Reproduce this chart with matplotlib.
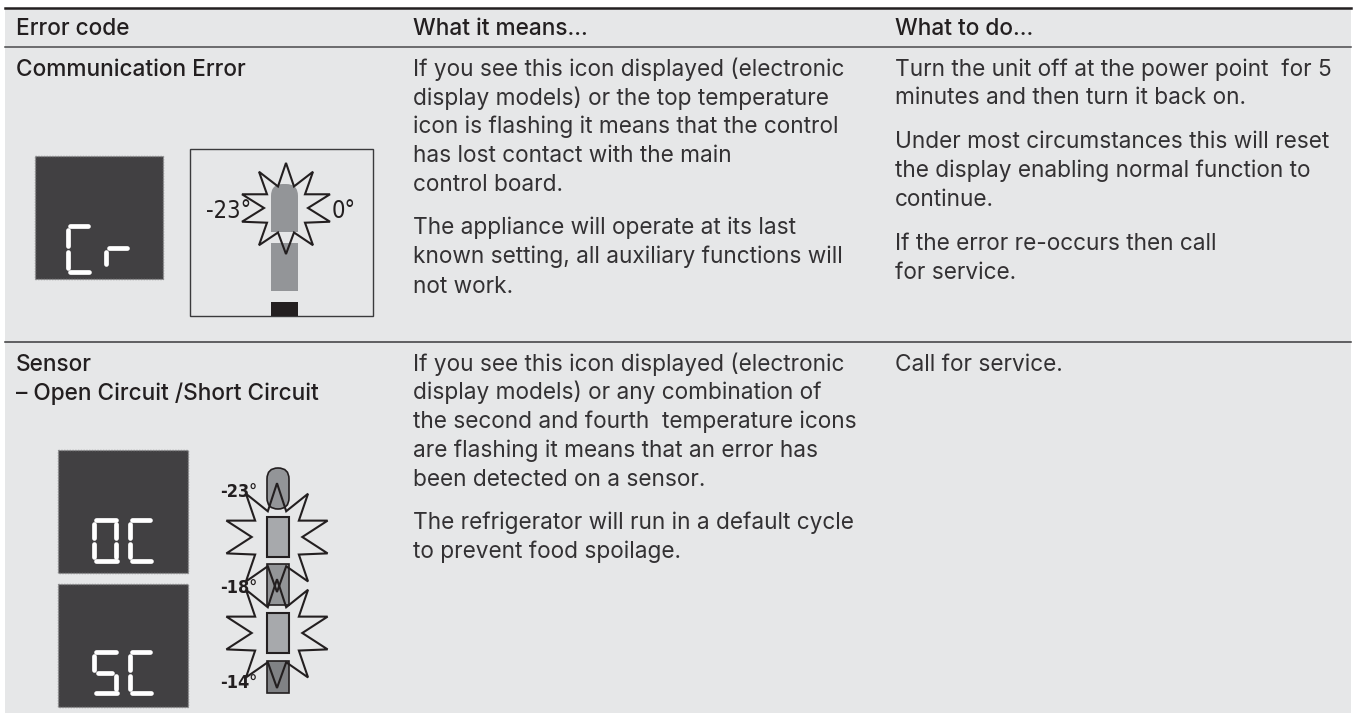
import matplotlib
matplotlib.use('Agg')
import matplotlib.pyplot as plt
from matplotlib.patches import Rectangle, Polygon, FancyBboxPatch

# Table text: (text, baseline y)
headers = ['Error code', 'What it means...', 'What to do...']
header_x = [16, 413, 895]

row_titles = [('Communication Error', 76), ('Sensor', 371), ('\u2013 Open Circuit /Short Circuit', 400)]

means_lines = [
    ('If you see this icon displayed (electronic', 76),
    ('display models) or the top temperature', 105),
    ('icon is flashing it means that the control', 133),
    ('has lost contact with the main', 162),
    ('control board.', 191),
    ('The appliance will operate at its last', 234),
    ('known setting, all auxiliary functions will', 263),
    ('not work.', 293),
    ('If you see this icon displayed (electronic', 371),
    ('display models) or any combination of', 399),
    ('the second and fourth  temperature icons', 428),
    ('are flashing it means that an error has', 457),
    ('been detected on a sensor.', 486),
    ('The refrigerator will run in a default cycle', 529),
    ('to prevent food spoilage.', 558),
]

todo_lines = [
    ('Turn the unit off at the power point  for 5', 76),
    ('minutes and then turn it back on.', 104),
    ('Under most circumstances this will reset', 148),
    ('the display enabling normal function to', 177),
    ('continue.', 206),
    ('If the error re-occurs then call', 250),
    ('for service.', 279),
    ('Call for service.', 371),
]

BG = '#e6e7e8'
INK = '#231f20'
FONT = 'Inter'
SIZE = 16.3

fig = plt.figure(figsize=(13.54, 7.13), dpi=100)
ax = fig.add_axes([0, 0, 1, 1])
ax.set_xlim(0, 1354)
ax.set_ylim(713, 0)
ax.axis('off')

ax.add_patch(Rectangle((5, 8), 1346, 705, fc=BG, ec='none'))
ax.plot([5, 1351], [8, 8], color=INK, lw=1.8)
ax.plot([5, 1351], [47, 47], color='#4a4a4c', lw=1.1)
ax.plot([5, 1351], [342, 342], color='#3a3a3c', lw=1.1)

for x, t in zip(header_x, headers):
    ax.text(x, 35, t, fontsize=SIZE, color=INK, family=FONT, weight='medium', va='baseline')
for t, y in row_titles:
    ax.text(16, y, t, fontsize=SIZE, color=INK, family=FONT, weight='medium', va='baseline')
for t, y in means_lines:
    ax.text(413, y, t, fontsize=SIZE, color='#333133', family=FONT, va='baseline')
for t, y in todo_lines:
    ax.text(895, y, t, fontsize=SIZE, color='#333133', family=FONT, va='baseline')


def seg_digit(x, y, w, h, segs):
    # seven segment glyph, a-g, white strokes on the dark square
    m = y + h / 2
    pts = {
        'a': [(x + 2, y), (x + w, y)],
        'b': [(x + w, y + 4), (x + w, m - 3)],
        'c': [(x + w, m + 3), (x + w, y + h - 4)],
        'd': [(x + 2, y + h), (x + w + 1, y + h)],
        'e': [(x, m + 3), (x, y + h - 4)],
        'f': [(x, y + 4), (x, m - 3)],
        'g': [(x + 4, m), (x + w - 4, m)],
    }
    for s in segs:
        (x0, y0), (x1, y1) = pts[s]
        ax.plot([x0, x1], [y0, y1], color='white', lw=3.4, solid_capstyle='round')


def screen(x, y, w, h):
    ax.add_patch(Rectangle((x, y), w, h, fc='#414042', ec='#8a8a8c', lw=1, ls=(0, (1, 1))))


# (dx, dy) of the ten star tips and ten notches around the star centre
tips = [(0, -46), (27, -37), (44, -14), (44, 14), (27, 38), (0, 47),
        (-27, 38), (-44, 14), (-44, -14), (-27, -37)]
notches = [(8, -22), (19, -14), (22, 0), (19, 15), (8, 25),
           (-8, 25), (-19, 15), (-22, 0), (-19, -14), (-8, -22)]


def star(cx, cy, sx=1.0, sy=1.0, fill='none', lw=1.5, z=3):
    pts = []
    for t, n in zip(tips, notches):
        pts.append((cx + t[0] * sx, cy + t[1] * sy))
        pts.append((cx + n[0] * sx, cy + n[1] * sy))
    ax.add_patch(Polygon(pts, closed=True, fc=fill, ec=INK, lw=lw, joinstyle='miter', zorder=z))


# first row icons
screen(35, 156, 128, 123)
seg_digit(68, 226, 20, 46, 'adef')
ax.plot([106, 106], [252, 264], color='white', lw=3.4, solid_capstyle='round')
ax.plot([109, 127], [248, 248], color='white', lw=3.4, solid_capstyle='round')

ax.add_patch(Rectangle((189.5, 149), 183, 167, fc='none', ec='#3a3a3c', lw=1))
ax.add_patch(Rectangle((271, 243), 27, 48, fc='#939598', ec='none'))
ax.add_patch(Rectangle((271, 302), 27, 14, fc=INK, ec='none'))
ax.add_patch(FancyBboxPatch((271, 184), 27, 47, boxstyle='round,pad=0,rounding_size=12',
                            fc='#939598', ec='none', zorder=2))
ax.add_patch(Rectangle((271, 205), 27, 27, fc='#939598', ec='none', zorder=2))
star(286, 208, sx=1.0, sy=0.98)
ax.text(206, 218, '-23\u00b0', fontsize=17, color=INK, family='DejaVu Sans', stretch='condensed', va='baseline')
ax.text(332, 218, '0\u00b0', fontsize=17, color=INK, family='DejaVu Sans', stretch='condensed', va='baseline')

# second row icons
screen(58, 450, 130, 123)
seg_digit(94, 520, 22, 41, 'abcdef')
seg_digit(130, 520, 20, 41, 'adef')
screen(58, 584, 130, 123)
seg_digit(94, 652, 22, 41, 'acdfg')
seg_digit(130, 652, 20, 41, 'adef')

thermo_x = 267
thermo_w = 22
ax.add_patch(FancyBboxPatch((thermo_x, 468), thermo_w, 41, boxstyle='round,pad=0,rounding_size=11',
                            fc='#939598', ec=INK, lw=1.2, zorder=2))
ax.add_patch(Rectangle((thermo_x, 517), thermo_w, 40, fc='#a7a9ac', ec=INK, lw=1.5, zorder=2))
ax.add_patch(Rectangle((thermo_x, 564), thermo_w, 41, fc='#939598', ec=INK, lw=1.2, zorder=2))
ax.add_patch(Rectangle((thermo_x, 613), thermo_w, 40, fc='#a7a9ac', ec=INK, lw=1.5, zorder=2))
ax.add_patch(Rectangle((thermo_x, 661), thermo_w, 32, fc='#808285', ec=INK, lw=1.2, zorder=2))
star(277, 537, sx=1.15, sy=1.17)
star(277, 633, sx=1.15, sy=1.17)
for t, y in [('-23\u00b0', 497), ('-18\u00b0', 593), ('-14\u00b0', 688)]:
    ax.text(220, y, t, fontsize=13, color=INK, weight='bold', family='DejaVu Sans',
            stretch='condensed', va='baseline', zorder=4)

fig.savefig('out.png', dpi=100)
